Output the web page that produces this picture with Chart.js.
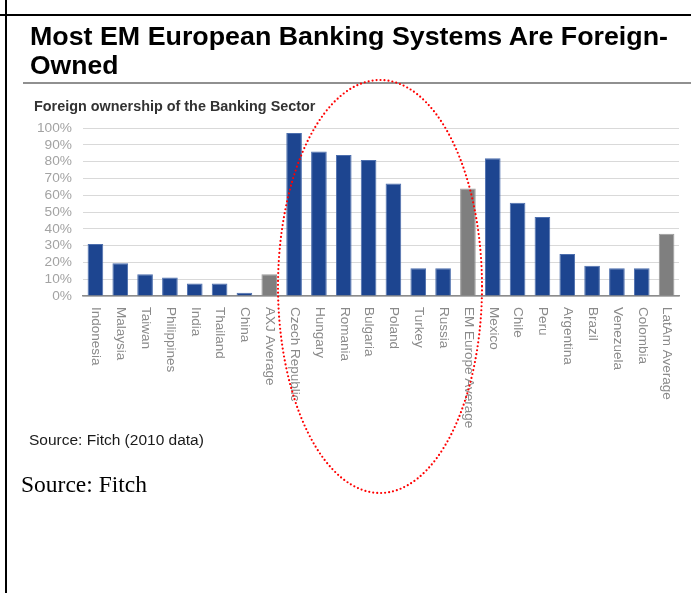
<!DOCTYPE html>
<html>
<head>
<meta charset="utf-8">
<script src="https://cdn.jsdelivr.net/npm/chart.js@4.4.0/dist/chart.umd.min.js"></script>
<style>
  html, body { margin: 0; padding: 0; background: #fff; }
  #wrap { position: relative; width: 691px; height: 593px; overflow: hidden; }
  #c { position: absolute; left: 0; top: 0; }
  #ov { position: absolute; left: 0; top: 0; }
</style>
</head>
<body>
<div id="wrap">
  <canvas id="c" width="691" height="593"></canvas>
  <svg id="ov" width="691" height="593" xmlns="http://www.w3.org/2000/svg">
    <line x1="0" y1="15" x2="691" y2="15" stroke="#000" stroke-width="2"/>
    <line x1="6" y1="0" x2="6" y2="593" stroke="#000" stroke-width="2"/>
    <text x="30" y="45" font-family="'Liberation Sans', Arial, sans-serif" font-weight="bold" font-size="26.5" fill="#000" textLength="638" lengthAdjust="spacingAndGlyphs">Most EM European Banking Systems Are Foreign-</text>
    <text x="30" y="74" font-family="'Liberation Sans', Arial, sans-serif" font-weight="bold" font-size="26.5" fill="#000">Owned</text>
    <line x1="23" y1="83" x2="691" y2="83" stroke="#6b6b6b" stroke-width="1.5"/>
    <text x="34" y="111" font-family="'Liberation Sans', Arial, sans-serif" font-weight="bold" font-size="14.4" fill="#333">Foreign ownership of the Banking Sector</text>
    <text x="29" y="445" font-family="'Liberation Sans', Arial, sans-serif" font-size="15.5" fill="#1a1a1a">Source: Fitch (2010 data)</text>
    <text x="21" y="492" font-family="'Liberation Serif', 'Times New Roman', serif" font-size="23.5" fill="#000">Source: Fitch</text>
    <ellipse cx="380" cy="286.5" rx="102" ry="206.5" fill="none" stroke="#ff0000" stroke-width="2.2" stroke-dasharray="0 4" stroke-linecap="round"/>
  </svg>
</div>
<script>
const categories = ["Indonesia", "Malaysia", "Taiwan", "Philippines", "India", "Thailand", "China", "AXJ Average",
  "Czech Republic", "Hungary", "Romania", "Bulgaria", "Poland", "Turkey", "Russia", "EM Europe Average",
  "Mexico", "Chile", "Peru", "Argentina", "Brazil", "Venezuela", "Colombia", "LatAm Average"];
const ownershipPct = [31, 19.5, 13, 11, 7.5, 7.5, 2, 13,
  97, 86, 84, 81, 67, 16.5, 16.5, 64,
  82, 55.5, 47, 25, 18, 16.5, 16.5, 37];
const yTickValues = [0, 10, 20, 30, 40, 50, 60, 70, 80, 90, 100];

const BLUE = '#1d4590', GRAY = '#7f7f7f';
const barColors = categories.map(c => c.includes('Average') ? GRAY : BLUE);
const barBorders = categories.map(c => c.includes('Average') ? '#9a9a9a' : '#4d6fae');

const rotatedLabels = {
  id: 'rotatedLabels',
  afterDraw(chart) {
    const ctx = chart.ctx, xs = chart.scales.x;
    ctx.save();
    ctx.font = '13.5px "Liberation Sans", Arial, sans-serif';
    ctx.fillStyle = '#8a8a8a';
    ctx.textAlign = 'left';
    ctx.textBaseline = 'middle';
    categories.forEach((lab, i) => {
      const x = xs.getPixelForTick(i);
      ctx.save();
      ctx.translate(x + 0.5, 307);
      ctx.rotate(Math.PI / 2);
      ctx.fillText(lab, 0, 0);
      ctx.restore();
    });
    ctx.restore();
  }
};

new Chart(document.getElementById('c'), {
  type: 'bar',
  data: {
    labels: categories,
    datasets: [{
      data: ownershipPct,
      backgroundColor: barColors,
      borderColor: barBorders,
      borderWidth: 1,
      barPercentage: 0.63,
      categoryPercentage: 1.0
    }]
  },
  options: {
    responsive: false,
    animation: false,
    devicePixelRatio: 1,
    layout: { padding: { left: 0, right: 12, top: 128, bottom: 0 } },
    plugins: { legend: { display: false }, tooltip: { enabled: false }, title: { display: false } },
    scales: {
      x: {
        grid: { display: false },
        border: { display: true, color: '#8c8c8c', width: 1.5 },
        ticks: { display: false },
        afterFit(scale) { scale.height = 297; }
      },
      y: {
        min: 0, max: 100,
        afterBuildTicks(scale) { scale.ticks = yTickValues.map(v => ({ value: v })); },
        grid: { color: '#d9d9d9', lineWidth: 1, drawTicks: false },
        border: { display: false },
        ticks: {
          autoSkip: false,
          padding: 11,
          color: '#a3a3a3',
          font: { family: '"Liberation Sans", Arial, sans-serif', size: 13.7 },
          callback: v => v + '%'
        },
        afterFit(scale) { scale.width = 83; }
      }
    }
  },
  plugins: [rotatedLabels]
});
</script>
</body>
</html>
